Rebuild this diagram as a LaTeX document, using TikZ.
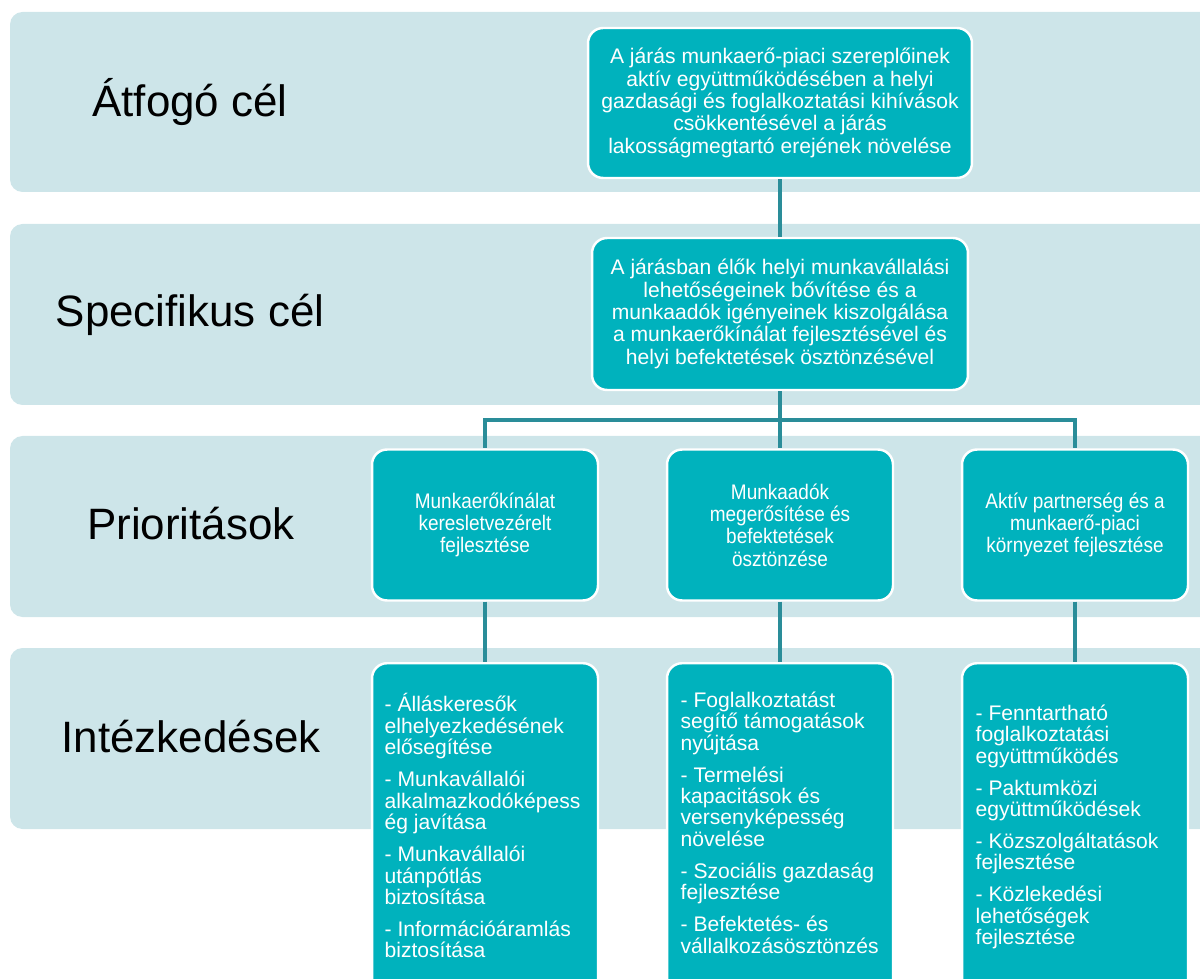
\documentclass[tikz,border=0pt]{standalone}
\usepackage{fontspec}
\setmainfont{Liberation Sans}
\usetikzlibrary{positioning}
\definecolor{bandblue}{HTML}{CDE5E9}
\definecolor{boxteal}{HTML}{00B2BD}
\definecolor{linkteal}{HTML}{2A8D99}
\newfontfamily\narrowfont[FakeStretch=0.9]{Liberation Sans}
\tikzset{every picture/.style={line width=0.75pt}}
\tikzset{
  band/.style={fill=bandblue, rounded corners=0.25cm},
  level/.style={font=\fontsize{25}{30}\selectfont},
  tealbox/.style={rectangle, rounded corners=0.3cm, fill=boxteal, draw=white, line width=1.4pt, text=white, align=center},
  goal/.style={tealbox, minimum width=7.6cm, minimum height=3cm, font=\fontsize{12}{12.75}\selectfont},
  prio/.style={tealbox, minimum width=4.52cm, minimum height=3.02cm, font=\narrowfont\fontsize{12}{12.75}\selectfont},
  measure/.style={tealbox, minimum width=4.52cm, minimum height=7cm, anchor=north},
  measuretext/.style={text=white, align=left, anchor=north west, inner sep=0pt, font=\fontsize{12}{12.2}\selectfont},
  link/.style={draw=linkteal, line width=1.9pt}
}

\begin{document}
\begin{tikzpicture}[x=0.02cm, y=-0.02cm]
\useasboundingbox (0,0) rectangle (1200,979);
\fill[band] (10,12) rectangle (1230,192);
\fill[band] (10,224) rectangle (1230,405);
\fill[band] (10,436) rectangle (1230,617);
\fill[band] (10,648) rectangle (1230,829);

\node[level] at (190,102) (lvlgoal) {Átfogó cél};
\node[level] at (190,315) (lvlspec) {Specifikus cél};
\node[level] at (191,524) (lvlprio) {Prioritások};
\node[level] at (191,737) (lvlmeas) {Intézkedések};

\node[goal, minimum width=7.68cm] at (780,103) (goal) {A járás munkaerő-piaci szereplőinek\\ aktív együttműködésében a helyi\\ gazdasági és foglalkoztatási kihívások\\ csökkentésével a járás\\ lakosságmegtartó erejének növelése};
\node[goal, minimum width=7.52cm, minimum height=3.04cm] at (780,314) (spec) {A járásban élők helyi munkavállalási\\ lehetőségeinek bővítése és a\\ munkaadók igényeinek kiszolgálása\\ a munkaerőkínálat fejlesztésével és\\ helyi befektetések ösztönzésével};

\node[prio] at (485,525) (p1) {Munkaerőkínálat\\ keresletvezérelt\\ fejlesztése};
\node[prio] at (780,525) (p2) {Munkaadók\\ megerősítése és\\ befektetések\\ ösztönzése};
\node[prio] at (1075,525) (p3) {Aktív partnerség és a\\ munkaerő-piaci\\ környezet fejlesztése};

\node[measure] at (485,662) (m1) {};
\node[measure] at (780,662) (m2) {};
\node[measure] at (1075,662) (m3) {};

\node[measuretext] at (384,693) (m1text) {- Álláskeresők\\ elhelyezkedésének\\ elősegítése\\[6pt] - Munkavállalói\\ alkalmazkodóképess\\ ég javítása\\[6pt] - Munkavállalói\\ utánpótlás\\ biztosítása\\[6pt] - Információáramlás\\ biztosítása};
\node[measuretext] at (680,691) (m2text) {- Foglalkoztatást\\ segítő támogatások\\ nyújtása\\[6pt] - Termelési\\ kapacitások és\\ versenyképesség\\ növelése\\[6pt] - Szociális gazdaság\\ fejlesztése\\[6pt] - Befektetés- és\\ vállalkozásösztönzés};
\node[measuretext] at (975,704) (m3text) {- Fenntartható\\ foglalkoztatási\\ együttműködés\\[6pt] - Paktumközi\\ együttműködések\\[6pt] - Közszolgáltatások\\ fejlesztése\\[6pt] - Közlekedési\\ lehetőségek\\ fejlesztése};

\coordinate (bus) at (780,420);
\path[link] (goal) edge (spec)
            (spec) edge (bus)
            (bus) edge (p2)
            (p1) edge (m1)
            (p2) edge (m2)
            (p3) edge (m3);
\draw[link] (bus) -| (p1.north);
\draw[link] (bus) -| (p3.north);
\end{tikzpicture}
\end{document}
